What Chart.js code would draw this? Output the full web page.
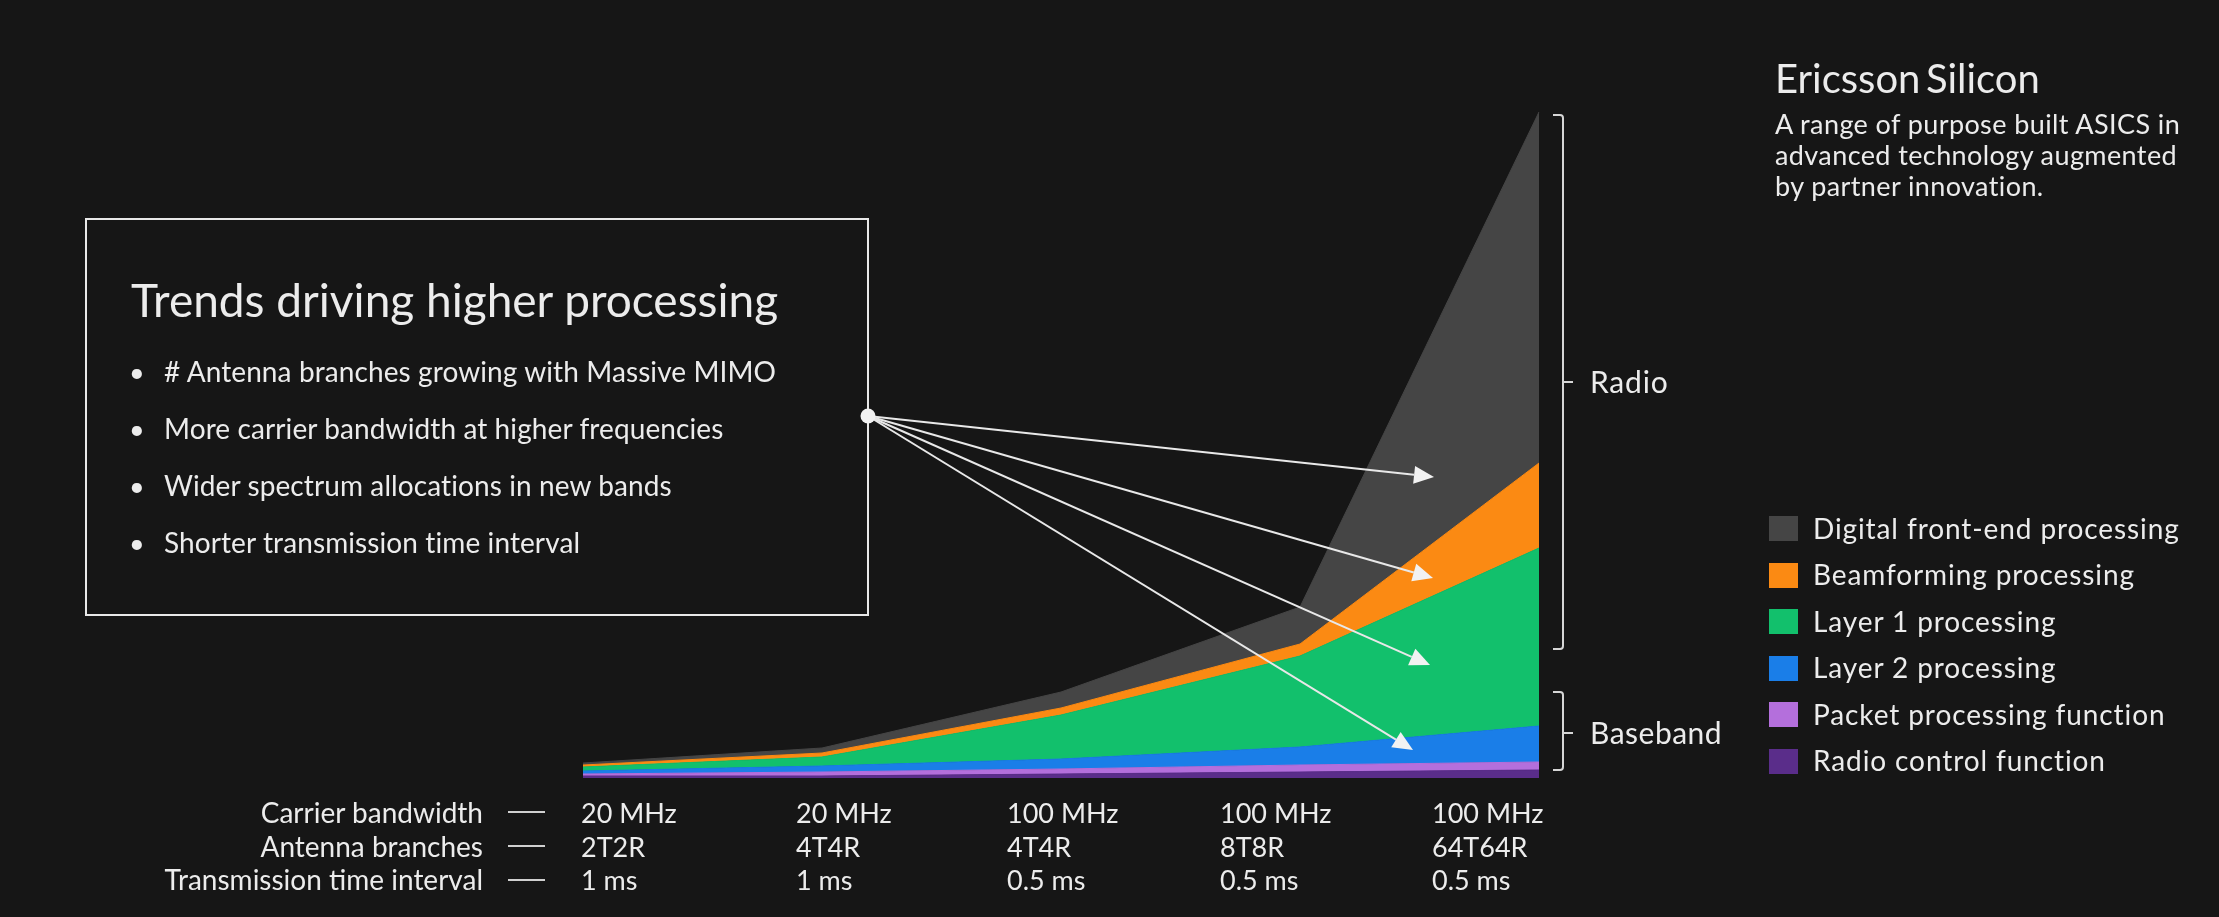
<!DOCTYPE html>
<html>
<head>
<meta charset="utf-8">
<script src="https://cdn.jsdelivr.net/npm/chart.js@4.4.1/dist/chart.umd.min.js"></script>
<style>
  html, body { margin: 0; padding: 0; background: #161616; }
  #wrap { position: relative; width: 2219px; height: 917px; overflow: hidden; background: #161616;
          font-family: Lato, "Noto Sans", sans-serif; color: #ececec; }
  #chart { position: absolute; left: 0; top: 0; }
  .t { position: absolute; line-height: 1; white-space: nowrap; }
  .sw { position: absolute; width: 29px; height: 25px; }
</style>
</head>
<body>
<div id="wrap"><canvas id="chart" width="2219" height="917"></canvas></div>
<script>
// configuration steps along the x axis
const bandwidth = ['20 MHz', '20 MHz', '100 MHz', '100 MHz', '100 MHz'];
const antennas  = ['2T2R', '4T4R', '4T4R', '8T8R', '64T64R'];
const tti       = ['1 ms', '1 ms', '0.5 ms', '0.5 ms', '0.5 ms'];
const rowNames  = ['Carrier bandwidth', 'Antenna branches', 'Transmission time interval'];

// relative processing load per function, bottom of the stack first
const radioControl = [2, 2, 4, 6, 8];
const packetProc   = [2, 4, 5, 7, 8];
const layer2       = [3, 6, 10, 18, 36];
const layer1       = [4, 9, 44, 91, 178];
const beamforming  = [2, 4, 7, 12, 85];
const dfe          = [2, 5, 16, 37, 351];

const seriesNames = ['Radio control function', 'Packet processing function', 'Layer 2 processing',
                     'Layer 1 processing', 'Beamforming processing', 'Digital front-end processing'];
const seriesColors = ['#5a2d8a', '#b46fdc', '#1a7ee8', '#12c06c', '#fb8a13', '#454545'];
const seriesData = [radioControl, packetProc, layer2, layer1, beamforming, dfe];

const bullets = [
  '# Antenna branches growing with Massive MIMO',
  'More carrier bandwidth at higher frequencies',
  'Wider spectrum allocations in new bands',
  'Shorter transmission time interval'
];

const W = 2219, H = 917;
const wrap = document.getElementById('wrap');

// place a text so that its baseline sits at y (Lato, line-height 1)
function put(text, x, base, size, opts = {}) {
  const d = document.createElement('div');
  d.className = 't';
  d.textContent = text;
  d.style.fontSize = size + 'px';
  d.style.top = (base - 0.887 * size) + 'px';
  if (opts.align === 'right') d.style.right = (W - x) + 'px';
  else d.style.left = x + 'px';
  if (opts.ws) d.style.wordSpacing = opts.ws;
  if (opts.ls) d.style.letterSpacing = opts.ls;
  wrap.appendChild(d);
  return d;
}

// text box on the left
put('Trends driving higher processing', 131, 318, 46);
bullets.forEach((b, i) => {
  const base = 382 + i * 57;
  put('\u2022', 129, base, 27);
  put(b, 164, base, 28, { ls: '0.1px' });
});

// heading on the right
put('Ericsson Silicon', 1775, 93, 40, { ws: '-0.12em' });
['A range of purpose built ASICS in', 'advanced technology augmented', 'by partner innovation.']
  .forEach((s, i) => put(s, 1775, 134 + i * 31, 27, { ls: '0.4px' }));

// bracket captions
put('Radio', 1590, 393, 30, { ls: '0.8px' });
put('Baseband', 1590, 744, 30, { ls: '0.5px' });

// legend, top of the stack first
for (let k = 0; k < seriesNames.length; k++) {
  const i = seriesNames.length - 1 - k;
  const top = 516 + k * 46.5;
  const sw = document.createElement('div');
  sw.className = 'sw';
  sw.style.left = '1769px';
  sw.style.top = top + 'px';
  sw.style.background = seriesColors[i];
  wrap.appendChild(sw);
  put(seriesNames[i], 1813, top + 22.5, 28, { ls: '0.9px' });
}

// table under the chart
const colX = [581, 796, 1007, 1220, 1432];
const rowBase = [823, 857, 890];
[bandwidth, antennas, tti].forEach((row, r) => {
  put(rowNames[r], 483, rowBase[r], 28, { align: 'right' });
  row.forEach((v, c) => put(v, colX[c], rowBase[r], 27));
});

// box, pointer arrows, brackets and table dashes
const overlay = {
  id: 'overlay',
  afterDraw(chart) {
    const ctx = chart.ctx;
    ctx.save();
    ctx.strokeStyle = '#e8e8e8';
    ctx.fillStyle = '#f2f2f2';
    ctx.lineWidth = 2;
    ctx.strokeRect(86, 219, 782, 396);

    const from = [868, 416];
    const tips = [[1434, 477], [1433, 578], [1430, 665], [1413, 750]];
    tips.forEach(([tx, ty]) => {
      const a = Math.atan2(ty - from[1], tx - from[0]);
      const len = 20, hw = 9;
      const bx = tx - len * Math.cos(a), by = ty - len * Math.sin(a);
      ctx.beginPath();
      ctx.moveTo(from[0], from[1]);
      ctx.lineTo(bx, by);
      ctx.stroke();
      ctx.beginPath();
      ctx.moveTo(tx, ty);
      ctx.lineTo(bx + hw * Math.sin(a), by - hw * Math.cos(a));
      ctx.lineTo(bx - hw * Math.sin(a), by + hw * Math.cos(a));
      ctx.closePath();
      ctx.fill();
    });
    ctx.beginPath();
    ctx.arc(from[0], from[1], 7.5, 0, Math.PI * 2);
    ctx.fill();

    ctx.strokeStyle = '#d6d6d6';
    const bracket = (top, bottom, mid) => {
      const x = 1563;
      ctx.beginPath();
      ctx.moveTo(1553, top);
      ctx.lineTo(x - 3, top);
      ctx.quadraticCurveTo(x, top, x, top + 3);
      ctx.lineTo(x, bottom - 3);
      ctx.quadraticCurveTo(x, bottom, x - 3, bottom);
      ctx.lineTo(1553, bottom);
      ctx.moveTo(x, mid);
      ctx.lineTo(1573, mid);
      ctx.stroke();
    };
    bracket(115, 649, 382);
    bracket(692, 770, 733);

    ctx.strokeStyle = '#d0d0d0';
    [812, 846, 880].forEach(y => {
      ctx.beginPath();
      ctx.moveTo(508, y);
      ctx.lineTo(545, y);
      ctx.stroke();
    });
    ctx.restore();
  }
};

new Chart(document.getElementById('chart'), {
  type: 'line',
  data: {
    labels: antennas,
    datasets: seriesData.map((d, i) => ({
      label: seriesNames[i],
      data: d,
      fill: i === 0 ? 'origin' : '-1',
      backgroundColor: seriesColors[i],
      borderColor: seriesColors[i],
      borderWidth: 1,
      pointRadius: 0,
      tension: 0
    }))
  },
  options: {
    responsive: false,
    animation: false,
    devicePixelRatio: 1,
    layout: { padding: { left: 583, right: W - 1539, top: 112, bottom: H - 778 } },
    scales: {
      x: { display: false, offset: false },
      y: { display: false, stacked: true, min: 0, max: 666 }
    },
    plugins: {
      legend: { display: false },
      tooltip: { enabled: false }
    }
  },
  plugins: [overlay]
});
</script>
</body>
</html>
